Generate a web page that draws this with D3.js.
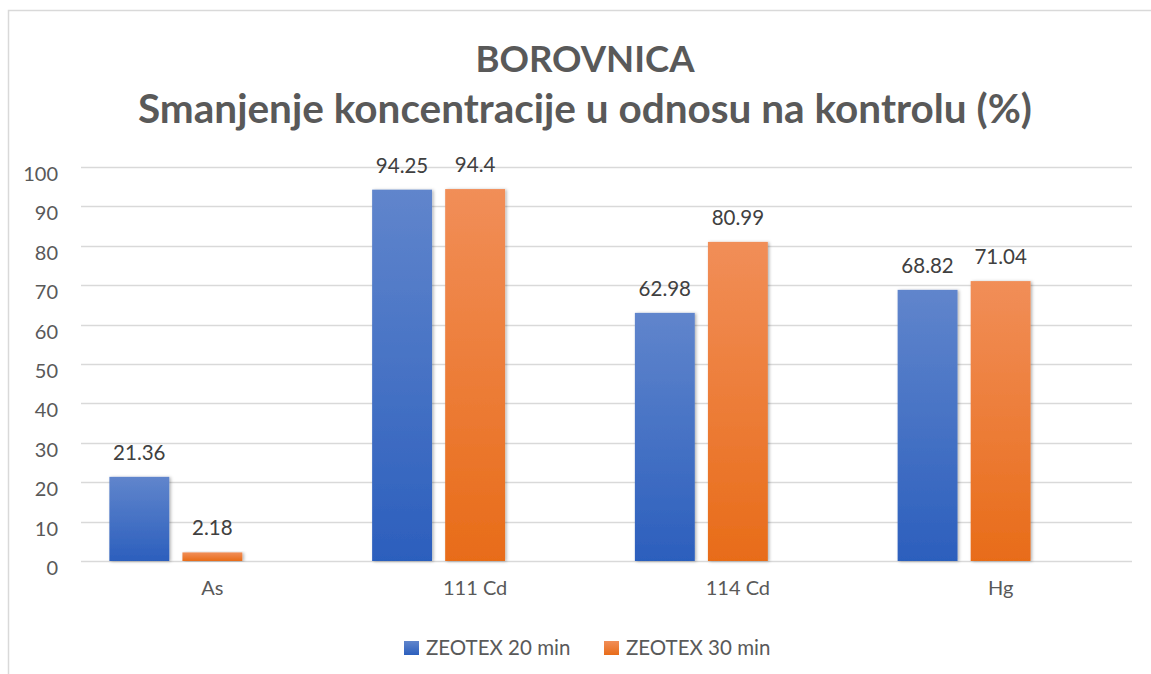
<!DOCTYPE html>
<html>
<head>
<meta charset="utf-8">
<script src="https://cdn.jsdelivr.net/npm/d3@7"></script>
<style>
  body { margin: 0; background: #fff; }
  text { font-family: Lato, "Open Sans", sans-serif; }
</style>
</head>
<body>
<div id="chart"></div>
<script>
// data
const categories = ["As", "111 Cd", "114 Cd", "Hg"];
const seriesNames = ["ZEOTEX 20 min", "ZEOTEX 30 min"];
const zeotex20 = [21.36, 94.25, 62.98, 68.82];
const zeotex30 = [2.18, 94.4, 80.99, 71.04];
const yTicks = [0, 10, 20, 30, 40, 50, 60, 70, 80, 90, 100];
const titleLines = ["BOROVNICA", "Smanjenje koncentracije u odnosu na kontrolu (%)"];

const W = 1151, H = 674;
const margin = {top: 167, right: 19, bottom: 113, left: 81};
const width = W - margin.left - margin.right,
      height = H - margin.top - margin.bottom;

const svg = d3.select("#chart").append("svg")
  .attr("width", W).attr("height", H);

const defs = svg.append("defs");
const grads = [["#6085cc", "#2c5fbd"], ["#f18e58", "#e86c19"]];
grads.forEach(function(c, i) {
  const g = defs.append("linearGradient").attr("id", "grad" + i)
    .attr("x1", 0).attr("y1", 0).attr("x2", 0).attr("y2", 1)
    .attr("gradientUnits", "objectBoundingBox");
  g.append("stop").attr("offset", "0%").attr("stop-color", c[0]);
  g.append("stop").attr("offset", "100%").attr("stop-color", c[1]);
});
const f = defs.append("filter").attr("id", "shadow")
  .attr("x", "-20%").attr("y", "-5%").attr("width", "140%").attr("height", "110%");
f.append("feDropShadow").attr("dx", 1.5).attr("dy", 0.5)
  .attr("stdDeviation", 1.5).attr("flood-color", "#000").attr("flood-opacity", 0.3);

// chart frame
svg.append("rect")
  .attr("x", 8.5).attr("y", 10.5).attr("width", W).attr("height", H)
  .attr("fill", "none").attr("stroke", "#d9d9d9").attr("stroke-width", 1.5);

// title
const titleSizes = [36.5, 40.5];
svg.append("g").selectAll("text")
  .data(titleLines).enter().append("text")
  .attr("x", 585)
  .attr("y", function(d, i) { return 72 + i * 51; })
  .attr("text-anchor", "middle")
  .attr("font-size", function(d, i) { return titleSizes[i]; })
  .attr("font-weight", "bold")
  .attr("fill", "#595959")
  .text(function(d) { return d; });

const g = svg.append("g").attr("transform", `translate(${margin.left},${margin.top})`);

const x0 = d3.scaleBand().domain(categories).range([0, width]).paddingInner(0.216).paddingOuter(0.108);
// Excel keeps room for a third (empty) slot in each group
const x1 = d3.scaleBand().domain(seriesNames.concat([""])).range([0, x0.bandwidth()]).paddingInner(0.18);
const y = d3.scaleLinear().domain([0, 100]).range([height, 0]);

// gridlines
g.append("g").selectAll("line")
  .data(yTicks).enter().append("line")
  .attr("x1", 0).attr("x2", width)
  .attr("y1", function(d) { return Math.round(y(d)) + 0.5; })
  .attr("y2", function(d) { return Math.round(y(d)) + 0.5; })
  .attr("stroke", "#d9d9d9").attr("stroke-width", 1.5);

// y axis labels
const yAxis = g.append("g").call(d3.axisLeft(y).tickValues(yTicks).tickSize(0).tickPadding(23));
yAxis.select(".domain").remove();
yAxis.selectAll("text").attr("font-size", 20).attr("fill", "#595959")
  .attr("font-family", "Lato, sans-serif").attr("dy", "0.67em");

// x axis labels
const xAxis = g.append("g").attr("transform", `translate(0,${height})`)
  .call(d3.axisBottom(d3.scaleBand().domain(categories).range([0, width])).tickSize(0).tickPadding(20));
xAxis.select(".domain").remove();
xAxis.selectAll("text").attr("font-size", 20).attr("fill", "#595959")
  .attr("font-family", "Lato, sans-serif");

const rows = categories.map(function(c, i) {
  return {cat: c, vals: [zeotex20[i], zeotex30[i]]};
});

const groups = g.append("g").selectAll("g")
  .data(rows).enter().append("g")
  .attr("transform", function(d) { return `translate(${x0(d.cat)},0)`; });

groups.selectAll("rect")
  .data(function(d) { return d.vals.map(function(v, i) { return {key: seriesNames[i], v: v, i: i}; }); })
  .enter().append("rect")
  .attr("x", function(d) { return x1(d.key); })
  .attr("y", function(d) { return y(d.v); })
  .attr("width", x1.bandwidth())
  .attr("height", function(d) { return y(0) - y(d.v); })
  .attr("fill", function(d) { return `url(#grad${d.i})`; })
  .attr("filter", "url(#shadow)");

groups.selectAll("text.lbl")
  .data(function(d) { return d.vals.map(function(v, i) { return {key: seriesNames[i], v: v}; }); })
  .enter().append("text").attr("class", "lbl")
  .attr("x", function(d) { return x1(d.key) + x1.bandwidth() / 2; })
  .attr("y", function(d) { return y(d.v) - 17; })
  .attr("text-anchor", "middle")
  .attr("font-size", 20.5).attr("fill", "#404040")
  .text(function(d) { return d.v; });

// legend
const legend = svg.append("g");
const legendX = [404, 604];
seriesNames.forEach(function(name, i) {
  legend.append("rect")
    .attr("x", legendX[i]).attr("y", 641).attr("width", 15).attr("height", 14)
    .attr("fill", `url(#grad${i})`);
  legend.append("text")
    .attr("x", legendX[i] + 22).attr("y", 655)
    .attr("font-size", 20.5).attr("fill", "#595959")
    .text(name);
});
</script>
</body>
</html>
